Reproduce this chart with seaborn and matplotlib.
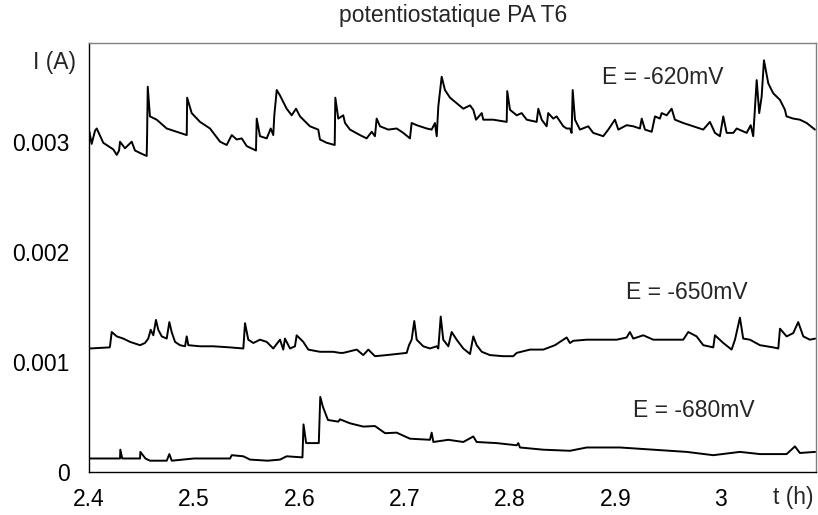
import numpy as np
import pandas as pd
import seaborn as sns
import matplotlib
matplotlib.use('Agg')
import matplotlib.pyplot as plt

# courbes : temps (h) et courant (mA)
t_620 = [2.4000, 2.4008, 2.4030, 2.4062, 2.4078, 2.4140, 2.4235, 2.4268, 2.4290, 2.4299,
         2.4346, 2.4410, 2.4441, 2.4505, 2.4552, 2.4556, 2.4562, 2.4583, 2.4647, 2.4742,
         2.4837, 2.4932, 2.4936, 2.4979, 2.5058, 2.5153, 2.5248, 2.5311, 2.5359, 2.5406,
         2.5454, 2.5501, 2.5589, 2.5596, 2.5627, 2.5691, 2.5729, 2.5753, 2.5763, 2.5786,
         2.5817, 2.5880, 2.5928, 2.5969, 2.6007, 2.6101, 2.6180, 2.6196, 2.6260, 2.6336,
         2.6342, 2.6370, 2.6417, 2.6434, 2.6481, 2.6576, 2.6639, 2.6687, 2.6718, 2.6734,
         2.6766, 2.6844, 2.6924, 2.6987, 2.7050, 2.7066, 2.7114, 2.7209, 2.7256, 2.7287,
         2.7304, 2.7319, 2.7351, 2.7382, 2.7430, 2.7493, 2.7556, 2.7620, 2.7651, 2.7677,
         2.7731, 2.7746, 2.7841, 2.7968, 2.7973, 2.7999, 2.8063, 2.8110, 2.8158, 2.8252,
         2.8268, 2.8300, 2.8347, 2.8362, 2.8410, 2.8442, 2.8505, 2.8537, 2.8568, 2.8584,
         2.8594, 2.8616, 2.8663, 2.8742, 2.8789, 2.8884, 2.8932, 2.8995, 2.9027, 2.9106,
         2.9169, 2.9232, 2.9249, 2.9280, 2.9344, 2.9375, 2.9422, 2.9438, 2.9486, 2.9533,
         2.9564, 2.9643, 2.9738, 2.9833, 2.9896, 2.9944, 2.9991, 3.0023, 3.0055, 3.0118,
         3.0150, 3.0245, 3.0283, 3.0307, 3.0340, 3.0364, 3.0387, 3.0409, 3.0450, 3.0497,
         3.0561, 3.0608, 3.0623, 3.0687, 3.0750, 3.0814, 3.0893]
i_620 = [3.05, 3.09, 2.98, 3.10, 3.12, 2.99, 2.93, 2.88, 2.92, 3.00,
         2.94, 3.00, 2.92, 2.89, 2.87, 3.06, 3.50, 3.23, 3.20, 3.12,
         3.09, 3.06, 3.40, 3.26, 3.18, 3.12, 3.00, 2.97, 3.06, 3.02,
         3.03, 2.96, 2.92, 3.21, 3.05, 3.03, 3.12, 3.06, 3.24, 3.47,
         3.42, 3.30, 3.24, 3.30, 3.23, 3.14, 3.11, 3.02, 2.99, 2.97,
         3.40, 3.21, 3.24, 3.17, 3.11, 3.06, 3.03, 3.09, 3.05, 3.21,
         3.14, 3.11, 3.12, 3.08, 3.03, 3.17, 3.15, 3.12, 3.11, 3.17,
         3.05, 3.32, 3.59, 3.47, 3.40, 3.35, 3.30, 3.33, 3.29, 3.20,
         3.26, 3.20, 3.20, 3.18, 3.46, 3.29, 3.24, 3.26, 3.20, 3.18,
         3.30, 3.20, 3.14, 3.26, 3.21, 3.23, 3.14, 3.12, 3.12, 3.08,
         3.47, 3.20, 3.11, 3.14, 3.08, 3.05, 3.11, 3.20, 3.11, 3.15,
         3.14, 3.12, 3.21, 3.11, 3.09, 3.23, 3.21, 3.26, 3.24, 3.30,
         3.20, 3.17, 3.14, 3.11, 3.18, 3.08, 3.05, 3.23, 3.08, 3.08,
         3.12, 3.08, 3.15, 3.05, 3.56, 3.26, 3.41, 3.74, 3.53, 3.44,
         3.38, 3.29, 3.23, 3.21, 3.20, 3.17, 3.11]

t_650 = [2.4000, 2.4008, 2.4200, 2.4204, 2.4220, 2.4268, 2.4330, 2.4394, 2.4489, 2.4536,
         2.4567, 2.4590, 2.4615, 2.4640, 2.4662, 2.4695, 2.4742, 2.4767, 2.4789, 2.4821,
         2.4868, 2.4916, 2.4932, 2.4947, 2.5058, 2.5184, 2.5343, 2.5469, 2.5485, 2.5516,
         2.5564, 2.5627, 2.5691, 2.5753, 2.5817, 2.5848, 2.5864, 2.5912, 2.5959, 2.5975,
         2.6038, 2.6085, 2.6196, 2.6323, 2.6386, 2.6417, 2.6545, 2.6607, 2.6655, 2.6718,
         2.6829, 2.6924, 2.7019, 2.7041, 2.7066, 2.7091, 2.7114, 2.7176, 2.7240, 2.7304,
         2.7319, 2.7342, 2.7366, 2.7414, 2.7446, 2.7493, 2.7556, 2.7620, 2.7651, 2.7683,
         2.7731, 2.7809, 2.7935, 2.8030, 2.8063, 2.8189, 2.8315, 2.8426, 2.8505, 2.8537,
         2.8568, 2.8600, 2.8727, 2.8853, 2.9011, 2.9106, 2.9137, 2.9169, 2.9264, 2.9359,
         2.9486, 2.9643, 2.9691, 2.9770, 2.9833, 2.9928, 2.9944, 3.0023, 3.0102, 3.0134,
         3.0181, 3.0212, 3.0276, 3.0371, 3.0497, 3.0545, 3.0561, 3.0624, 3.0687, 3.0734,
         3.0782, 3.0845, 3.0895]
i_650 = [1.11, 1.12, 1.13, 1.14, 1.27, 1.23, 1.21, 1.18, 1.15, 1.17,
         1.21, 1.29, 1.24, 1.38, 1.29, 1.23, 1.21, 1.36, 1.27, 1.18,
         1.15, 1.14, 1.23, 1.15, 1.14, 1.14, 1.13, 1.12, 1.35, 1.20,
         1.17, 1.20, 1.18, 1.12, 1.20, 1.11, 1.21, 1.12, 1.14, 1.24,
         1.18, 1.11, 1.09, 1.09, 1.08, 1.08, 1.11, 1.06, 1.11, 1.05,
         1.06, 1.07, 1.08, 1.15, 1.20, 1.37, 1.20, 1.14, 1.12, 1.14,
         1.12, 1.41, 1.20, 1.14, 1.27, 1.20, 1.12, 1.07, 1.23, 1.15,
         1.09, 1.06, 1.05, 1.05, 1.08, 1.11, 1.11, 1.15, 1.20, 1.22,
         1.17, 1.19, 1.20, 1.20, 1.20, 1.22, 1.27, 1.21, 1.24, 1.20,
         1.20, 1.20, 1.27, 1.23, 1.15, 1.13, 1.24, 1.17, 1.11, 1.20,
         1.40, 1.21, 1.20, 1.15, 1.13, 1.12, 1.30, 1.23, 1.26, 1.36,
         1.23, 1.20, 1.21]

t_680 = [2.4000, 2.4150, 2.4299, 2.4302, 2.4320, 2.4489, 2.4492, 2.4540, 2.4583, 2.4742,
         2.4767, 2.4790, 2.5000, 2.5200, 2.5343, 2.5359, 2.5469, 2.5532, 2.5700, 2.5817,
         2.5880, 2.6030, 2.6040, 2.6065, 2.6185, 2.6199, 2.6224, 2.6272, 2.6370, 2.6386,
         2.6481, 2.6607, 2.6718, 2.6814, 2.6924, 2.7050, 2.7240, 2.7256, 2.7272, 2.7414,
         2.7556, 2.7651, 2.7683, 2.7872, 2.8063, 2.8078, 2.8094, 2.8315, 2.8568, 2.8727,
         2.9043, 2.9359, 2.9675, 2.9928, 3.0181, 3.0371, 3.0624, 3.0703, 3.0750, 3.0895]
i_680 = [0.12, 0.12, 0.12, 0.20, 0.12, 0.12, 0.18, 0.12, 0.10, 0.10,
         0.16, 0.10, 0.12, 0.12, 0.12, 0.15, 0.14, 0.11, 0.10, 0.11,
         0.14, 0.13, 0.43, 0.26, 0.26, 0.68, 0.59, 0.47, 0.455, 0.476,
         0.44, 0.41, 0.415, 0.35, 0.355, 0.30, 0.29, 0.355, 0.27, 0.29,
         0.27, 0.32, 0.27, 0.26, 0.24, 0.26, 0.22, 0.20, 0.19, 0.22,
         0.22, 0.20, 0.18, 0.15, 0.18, 0.16, 0.16, 0.23, 0.17, 0.18]

labels = ['E = -620mV', 'E = -650mV', 'E = -680mV']
label_t = [2.945, 2.968, 2.974]
label_i = [3.58, 1.625, 0.56]

# mA -> A
frames = []
for name, t, i in [('620', t_620, i_620), ('650', t_650, i_650), ('680', t_680, i_680)]:
    frames.append(pd.DataFrame({'t': t, 'I': np.array(i) * 1e-3, 'E': name}))
df = pd.concat(frames, ignore_index=True)

sns.set_style('white')
plt.rcParams['font.family'] = ['Liberation Sans', 'DejaVu Sans']

fig = plt.figure(figsize=(8.18, 5.15), dpi=100)
ax = fig.add_axes([0.1082, 0.0841, 0.8890, 0.8330])

for e in ['620', '650', '680']:
    sns.lineplot(data=df[df['E'] == e], x='t', y='I', ax=ax, color='black',
                 linewidth=1.4, sort=False, estimator=None, legend=False)

ax.set_xlim(2.4, 3.09)
ax.set_ylim(0, 0.0039)
ax.set_xticks([2.4, 2.5, 2.6, 2.7, 2.8, 2.9, 3.0])
ax.set_xticklabels(['2.4', '2.5', '2.6', '2.7', '2.8', '2.9', '3'])
ax.set_yticks([0, 0.001, 0.002, 0.003])
ax.set_yticklabels(['0', '0.001', '0.002', '0.003'])
ax.tick_params(axis='both', labelsize=16.5, colors='black', direction='out')
ax.tick_params(axis='y', length=6.5, width=1, pad=7)
ax.tick_params(axis='x', length=5, width=1, pad=7)
ax.set_xlabel('')
ax.set_ylabel('')

for side in ['top', 'right']:
    ax.spines[side].set_color('#808080')
for side in ['left', 'bottom']:
    ax.spines[side].set_color('black')
for s in ax.spines.values():
    s.set_linewidth(1)

for lab, x, y in zip(labels, label_t, label_i):
    ax.text(x, y * 1e-3, lab, fontsize=16.5, ha='center', va='center')

fig.text(0.0663, 0.878, 'I (A)', fontsize=16.5, ha='center', va='center')
fig.text(0.970, 0.034, 't (h)', fontsize=16.5, ha='center', va='center')
fig.text(0.5545, 0.970, 'potentiostatique PA T6', fontsize=16.5, ha='center', va='center')

fig.savefig('out.png', dpi=100)
